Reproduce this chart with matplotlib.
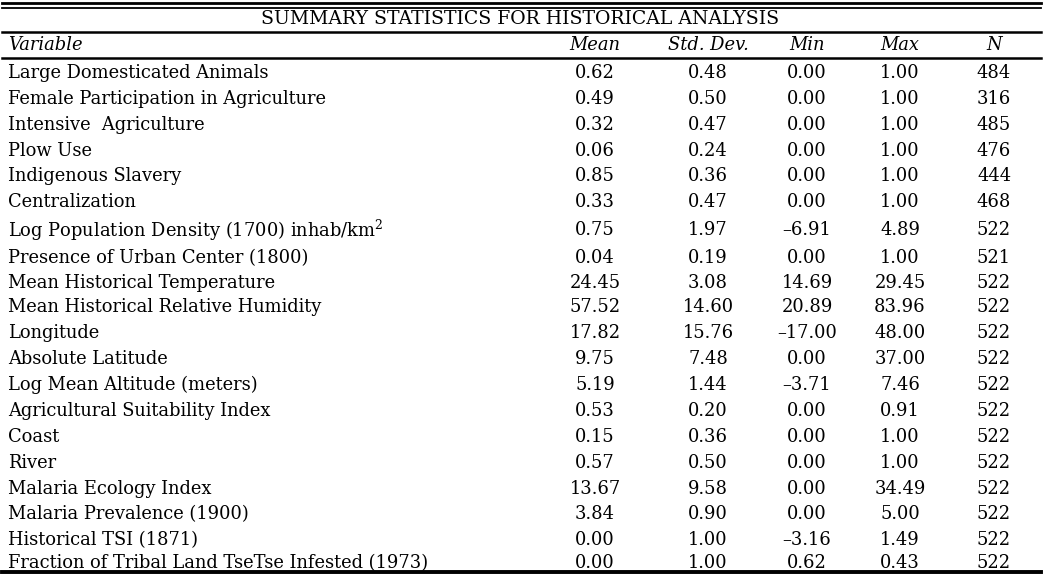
import matplotlib
matplotlib.use("Agg")
import matplotlib.pyplot as plt

plt.rcParams['font.family'] = ['DejaVu Serif']
plt.rcParams['mathtext.fontset'] = 'dejavuserif'

title = "SUMMARY STATISTICS FOR HISTORICAL ANALYSIS"
headers = ["Variable", "Mean", "Std. Dev.", "Min", "Max", "N"]

variables = [
    "Large Domesticated Animals",
    "Female Participation in Agriculture",
    "Intensive  Agriculture",
    "Plow Use",
    "Indigenous Slavery",
    "Centralization",
    r"Log Population Density (1700) inhab/km$^{2}$",
    "Presence of Urban Center (1800)",
    "Mean Historical Temperature",
    "Mean Historical Relative Humidity",
    "Longitude",
    "Absolute Latitude",
    "Log Mean Altitude (meters)",
    "Agricultural Suitability Index",
    "Coast",
    "River",
    "Malaria Ecology Index",
    "Malaria Prevalence (1900)",
    "Historical TSI (1871)",
    "Fraction of Tribal Land TseTse Infested (1973)",
]
mean = [0.62, 0.49, 0.32, 0.06, 0.85, 0.33, 0.75, 0.04, 24.45, 57.52,
        17.82, 9.75, 5.19, 0.53, 0.15, 0.57, 13.67, 3.84, 0.00, 0.00]
std = [0.48, 0.50, 0.47, 0.24, 0.36, 0.47, 1.97, 0.19, 3.08, 14.60,
       15.76, 7.48, 1.44, 0.20, 0.36, 0.50, 9.58, 0.90, 1.00, 1.00]
vmin = [0.00, 0.00, 0.00, 0.00, 0.00, 0.00, -6.91, 0.00, 14.69, 20.89,
        -17.00, 0.00, -3.71, 0.00, 0.00, 0.00, 0.00, 0.00, -3.16, 0.62]
vmax = [1.00, 1.00, 1.00, 1.00, 1.00, 1.00, 4.89, 1.00, 29.45, 83.96,
        48.00, 37.00, 7.46, 0.91, 1.00, 1.00, 34.49, 5.00, 1.49, 0.43]
nobs = [484, 316, 485, 476, 444, 468, 522, 521, 522, 522,
        522, 522, 522, 522, 522, 522, 522, 522, 522, 522]

row_y = [72, 98, 124, 150, 175, 201, 229, 257, 282, 306,
         332, 358, 384, 410, 436, 462, 488, 513, 539, 562]
col_x = [595, 708, 807, 900, 994]


def fmt(v):
    return f"{v:.2f}".replace("-", "\u2013")


fig = plt.figure(figsize=(10.43, 5.85), dpi=100)
ax = fig.add_axes([0, 0, 1, 1])
ax.set_xlim(0, 1043)
ax.set_ylim(585, 0)
ax.axis("off")

fs = 12.9
# rules
ax.plot([2, 1041], [3, 3], color="black", lw=2.0)
ax.plot([2, 1041], [8, 8], color="black", lw=1.3)
ax.plot([2, 1041], [32, 32], color="black", lw=1.8)
ax.plot([2, 1041], [58, 58], color="black", lw=1.8)
ax.plot([2, 1041], [572, 572], color="black", lw=2.8)

ax.text(520, 19, title, ha="center", va="center", fontsize=13.6)
ax.text(8, 45, headers[0], ha="left", va="center", fontsize=fs, style="italic")
for x, h in zip(col_x, headers[1:]):
    ax.text(x, 45, h, ha="center", va="center", fontsize=fs, style="italic")

for i, name in enumerate(variables):
    y = row_y[i]
    ax.text(8, y + 1, name, ha="left", va="center", fontsize=fs)
    vals = [fmt(mean[i]), fmt(std[i]), fmt(vmin[i]), fmt(vmax[i]), str(nobs[i])]
    for x, v in zip(col_x, vals):
        ax.text(x, y + 1, v, ha="center", va="center", fontsize=fs)

fig.savefig("out.png", dpi=100)
